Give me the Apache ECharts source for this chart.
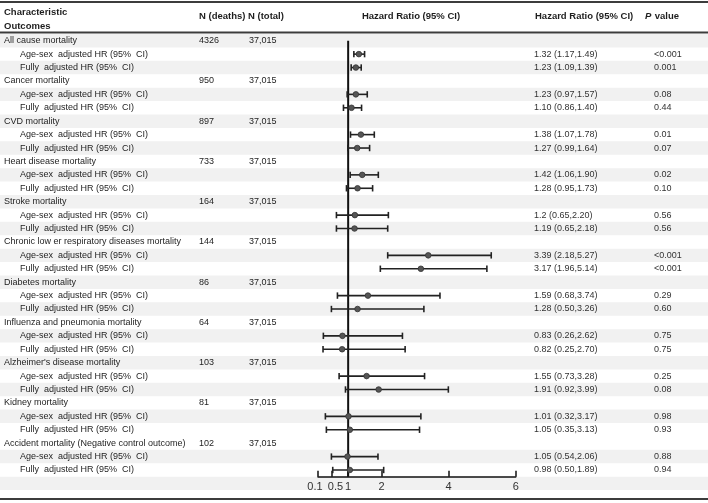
<!DOCTYPE html>
<html>
<head>
<meta charset="utf-8">
<script src="https://cdn.jsdelivr.net/npm/echarts@6/dist/echarts.min.js"></script>
<style>
  html, body { margin: 0; padding: 0; background: #fff; }
  #chart { width: 708px; height: 503px; }
</style>
</head>
<body>
<div id="chart"></div>
<script>
const outcomes = [
  "All cause mortality", "Cancer mortality", "CVD mortality", "Heart disease mortality",
  "Stroke mortality", "Chronic low er respiratory diseases mortality", "Diabetes mortality",
  "Influenza and pneumonia mortality", "Alzheimer's disease mortality", "Kidney mortality",
  "Accident mortality (Negative control outcome)"
];
const deaths = [4326, 950, 897, 733, 164, 144, 86, 64, 103, 81, 102];
const totals = ["37,015", "37,015", "37,015", "37,015", "37,015", "37,015", "37,015", "37,015", "37,015", "37,015", "37,015"];

// printed estimates
const ageSexText = ["1.32 (1.17,1.49)", "1.23 (0.97,1.57)", "1.38 (1.07,1.78)", "1.42 (1.06,1.90)", "1.2 (0.65,2.20)",
  "3.39 (2.18,5.27)", "1.59 (0.68,3.74)", "0.83 (0.26,2.62)", "1.55 (0.73,3.28)", "1.01 (0.32,3.17)", "1.05 (0.54,2.06)"];
const fullText = ["1.23 (1.09,1.39)", "1.10 (0.86,1.40)", "1.27 (0.99,1.64)", "1.28 (0.95,1.73)", "1.19 (0.65,2.18)",
  "3.17 (1.96,5.14)", "1.28 (0.50,3.26)", "0.82 (0.25,2.70)", "1.91 (0.92,3.99)", "1.05 (0.35,3.13)", "0.98 (0.50,1.89)"];
const ageSexP = ["<0.001", "0.08", "0.01", "0.02", "0.56", "<0.001", "0.29", "0.75", "0.25", "0.98", "0.88"];
const fullP = ["0.001", "0.44", "0.07", "0.10", "0.56", "<0.001", "0.60", "0.75", "0.08", "0.93", "0.94"];

// plotted estimates (as drawn in the figure)
const ageSexHR = [1.32, 1.23, 1.38, 1.42, 1.2, 3.39, 1.59, 0.83, 1.55, 1.01, 0.98];
const ageSexLo = [1.17, 0.97, 1.07, 1.06, 0.65, 2.18, 0.68, 0.26, 0.73, 0.32, 0.50];
const ageSexHi = [1.49, 1.57, 1.78, 1.90, 2.20, 5.27, 3.74, 2.62, 3.28, 3.17, 1.89];
const fullHR = [1.23, 1.10, 1.27, 1.28, 1.19, 3.17, 1.28, 0.82, 1.91, 1.05, 1.05];
const fullLo = [1.09, 0.86, 0.99, 0.95, 0.65, 1.96, 0.50, 0.25, 0.92, 0.35, 0.54];
const fullHi = [1.39, 1.40, 1.64, 1.73, 2.18, 5.14, 3.26, 2.70, 3.99, 3.13, 2.06];

const axisTicks = [0.1, 0.5, 1, 2, 4, 6];
const shadedRows = [0, 2, 4, 6, 8, 10, 12, 14, 16, 18, 20, 22, 24, 26, 28, 31, 33];

const FONT = '"Liberation Sans", Arial, sans-serif';
const TEXT = "#1e1e1e";

// table rows
const tableRows = [];
const bars = [];
outcomes.forEach((name, i) => {
  const r = i * 3;
  tableRows.push({ row: r, cells: [[4, name], [199, String(deaths[i])], [249, totals[i]]] });
  tableRows.push({ row: r + 1, cells: [[20, "Age-sex  adjusted HR (95%  CI)"], [534, ageSexText[i]], [654, ageSexP[i]]] });
  tableRows.push({ row: r + 2, cells: [[20, "Fully  adjusted HR (95%  CI)"], [534, fullText[i]], [654, fullP[i]]] });
  bars.push([r + 1, ageSexHR[i], ageSexLo[i], ageSexHi[i]]);
  bars.push([r + 2, fullHR[i], fullLo[i], fullHi[i]]);
});

const chart = echarts.init(document.getElementById("chart"), null, { renderer: "canvas" });

function headText(x, y, text, align) {
  return {
    type: "text", x, y, z: 10,
    style: { text, fill: TEXT, font: "bold 9.5px " + FONT, align: align || "left", verticalAlign: "middle" }
  };
}
function hLine(y, w) {
  return { type: "line", z: 10, shape: { x1: 0, y1: y, x2: 708, y2: y }, style: { stroke: "#3c3c3c", lineWidth: w } };
}

const option = {
  backgroundColor: "#ffffff",
  animation: false,
  grid: [
    { left: 0, width: 708, top: 34, height: 442.7, outerBoundsMode: "none" },
    { left: 318, width: 197.7, top: 34, height: 442.7, outerBoundsMode: "none" }
  ],
  xAxis: [
    { gridIndex: 0, type: "value", min: 0, max: 708, show: false },
    {
      gridIndex: 1, type: "value", min: 0.1, max: 6,
      axisLine: { show: true, onZero: false, lineStyle: { color: "#111", width: 1.5 } },
      axisTick: { show: true, inside: true, length: 6, customValues: axisTicks, lineStyle: { color: "#111", width: 1.5 } },
      axisLabel: {
        customValues: axisTicks, color: "#333", fontSize: 11, fontFamily: FONT, margin: 5,
        hideOverlap: false, showMinLabel: true, showMaxLabel: true,
        formatter: v => v === 0.1 ? "{l|0.1}" : v === 0.5 ? "{r|0.5}" : String(v),
        rich: {
          l: { fontSize: 11, fontFamily: FONT, color: "#333", padding: [0, 6, 0, 0] },
          r: { fontSize: 11, fontFamily: FONT, color: "#333", padding: [0, 0, 0, 8] }
        }
      },
      splitLine: { show: false }
    }
  ],
  yAxis: [
    { gridIndex: 0, type: "value", min: -0.5, max: 32.5, inverse: true, show: false },
    { gridIndex: 1, type: "value", min: -0.5, max: 32.5, inverse: true, show: false }
  ],
  graphic: [
    hLine(2, 2.2), hLine(32.5, 2), hLine(499, 2),
    headText(4, 12, "Characteristic"),
    headText(4, 26, "Outcomes"),
    headText(199, 16, "N (deaths)"),
    headText(248, 16, "N (total)"),
    headText(411, 16, "Hazard Ratio (95% CI)", "center"),
    headText(535, 16, "Hazard Ratio (95% CI)"),
    {
      type: "text", x: 645, y: 16, z: 10,
      style: {
        text: "{i|P} {b|value}", align: "left", verticalAlign: "middle",
        rich: {
          i: { fontStyle: "italic", fontWeight: "bold", fontSize: 9.5, fontFamily: FONT, fill: TEXT },
          b: { fontWeight: "bold", fontSize: 9.5, fontFamily: FONT, fill: TEXT }
        }
      }
    }
  ],
  series: [
    {
      type: "custom", xAxisIndex: 0, yAxisIndex: 0, z: 0, silent: true,
      data: shadedRows.map(r => [0, r]),
      renderItem: (params, api) => {
        const r = api.value(1);
        const y0 = api.coord([0, r - 0.5])[1];
        const y1 = api.coord([0, r + 0.5])[1];
        return { type: "rect", shape: { x: 0, y: y0, width: 708, height: y1 - y0 }, style: { fill: "#f1f1f1" } };
      }
    },
    {
      type: "custom", xAxisIndex: 0, yAxisIndex: 0, z: 3, silent: true,
      data: tableRows.map(t => [0, t.row]),
      renderItem: (params, api) => {
        const t = tableRows[params.dataIndex];
        const y = api.coord([0, t.row])[1];
        return {
          type: "group",
          children: t.cells.map(([x, text]) => ({
            type: "text", x, y,
            style: { text, fill: x > 500 ? "#333" : TEXT, font: "9px " + FONT, align: "left", verticalAlign: "middle" }
          }))
        };
      }
    },
    {
      type: "line", xAxisIndex: 1, yAxisIndex: 1, z: 4, silent: true,
      symbol: "none",
      data: [[1, 0], [1, 32.5]],
      lineStyle: { color: "#111", width: 2 }
    },
    {
      type: "custom", xAxisIndex: 1, yAxisIndex: 1, z: 5, silent: true,
      data: bars,
      encode: { x: [1, 2, 3], y: 0 },
      renderItem: (params, api) => {
        const row = api.value(0);
        const p = api.coord([api.value(1), row]);
        const lo = api.coord([api.value(2), row]);
        const hi = api.coord([api.value(3), row]);
        const cap = 3.2;
        const st = { stroke: "#222", lineWidth: 1.6 };
        return {
          type: "group",
          children: [
            { type: "line", shape: { x1: lo[0], y1: p[1], x2: hi[0], y2: p[1] }, style: st },
            { type: "line", shape: { x1: lo[0], y1: p[1] - cap, x2: lo[0], y2: p[1] + cap }, style: st },
            { type: "line", shape: { x1: hi[0], y1: p[1] - cap, x2: hi[0], y2: p[1] + cap }, style: st },
            { type: "circle", shape: { cx: p[0], cy: p[1], r: 2.8 }, style: { fill: "#555", stroke: "#333", lineWidth: 0.8 } }
          ]
        };
      }
    }
  ]
};

chart.setOption(option);
</script>
</body>
</html>
